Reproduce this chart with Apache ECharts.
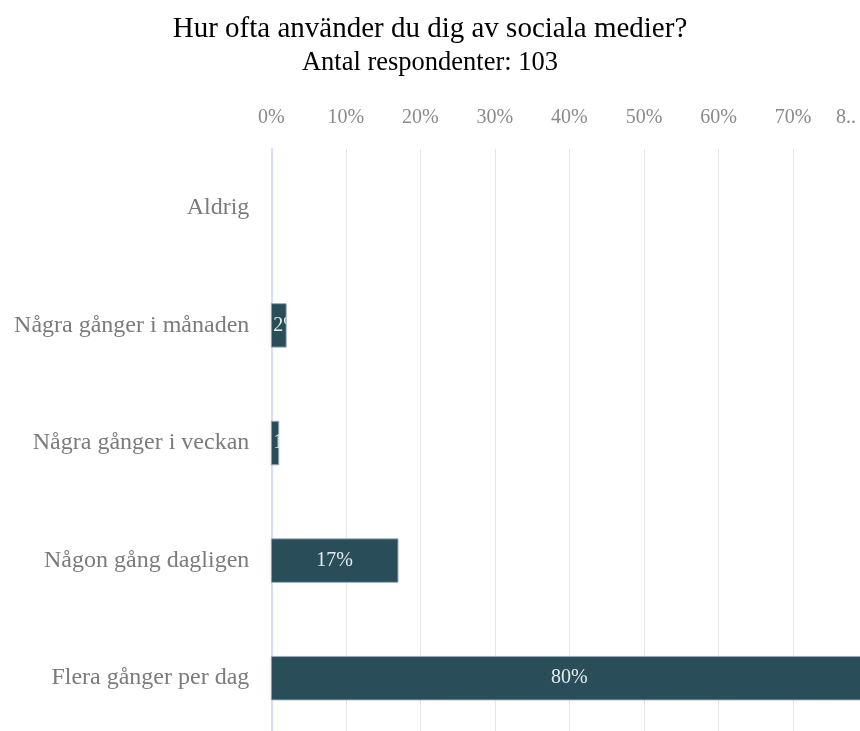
<!DOCTYPE html>
<html>
<head>
<meta charset="utf-8">
<title>Sociala medier</title>
<script src="https://cdn.jsdelivr.net/npm/echarts@6/dist/echarts.min.js"></script>
<style>
  html, body { margin: 0; padding: 0; background: #ffffff; }
  #chart { width: 860px; height: 731px; }
</style>
</head>
<body>
<div id="chart"></div>
<script>
// Answer categories, top to bottom
const categories = [
  'Aldrig',
  'Några gånger i månaden',
  'Några gånger i veckan',
  'Någon gång dagligen',
  'Flera gånger per dag'
];
// Share of respondents per answer, in percent
const shares = [0, 2, 1, 17, 80];
// Labels shown along the top value axis
const tickLabels = ['0%', '10%', '20%', '30%', '40%', '50%', '60%', '70%', '8..'];

const SERIF = '"Liberation Serif", "Times New Roman", serif';
const BAR_COLOR = '#294d59';

// Bars are drawn with a custom series so each value label can be clipped to its bar
function renderBar(params, api) {
  const v = api.value(0);
  if (!v) return null;
  const cat = api.value(1);
  const p0 = api.coord([0, cat]);
  const p1 = api.coord([v, cat]);
  const band = api.size([0, 1])[1];
  const h = band * 0.37;
  const rect = { x: p0[0], y: p0[1] - h / 2, width: p1[0] - p0[0], height: h };
  const fits = rect.width > 50;
  return {
    type: 'group',
    children: [
      {
        type: 'rect',
        shape: rect,
        style: { fill: BAR_COLOR, stroke: 'rgba(150,175,188,0.9)', lineWidth: 1 }
      },
      {
        type: 'text',
        clipPath: { type: 'rect', shape: rect },
        style: {
          text: v + '%',
          x: fits ? (p0[0] + p1[0]) / 2 : p0[0] + 2,
          y: p0[1],
          align: fits ? 'center' : 'left',
          verticalAlign: 'middle',
          fill: '#e4eaec',
          font: '20px ' + SERIF
        }
      }
    ]
  };
}

const chart = echarts.init(document.getElementById('chart'), null, { renderer: 'canvas' });

chart.setOption({
  backgroundColor: '#ffffff',
  animation: false,
  title: {
    text: 'Hur ofta använder du dig av sociala medier?',
    subtext: 'Antal respondenter: 103',
    left: 'center',
    top: 10,
    itemGap: 6,
    textStyle: {
      fontFamily: SERIF,
      fontSize: 29,
      lineHeight: 29,
      fontWeight: 'normal',
      color: '#000000'
    },
    subtextStyle: {
      fontFamily: SERIF,
      fontSize: 26.5,
      lineHeight: 26,
      color: '#000000'
    }
  },
  // the plot area runs slightly past the right and bottom edges of the canvas
  grid: {
    left: 271.3,
    top: 149,
    width: 596.3,
    height: 588,
    containLabel: false,
    outerBoundsMode: 'none'
  },
  xAxis: {
    type: 'value',
    position: 'top',
    min: 0,
    max: 80,
    interval: 10,
    axisLine: { show: false },
    axisTick: { show: false },
    splitLine: { show: true, lineStyle: { color: '#e6e6e6', width: 1 } },
    axisLabel: {
      margin: 21,
      fontFamily: SERIF,
      fontSize: 20,
      color: '#8a8a8a',
      showMinLabel: true,
      showMaxLabel: true,
      formatter: function (val) {
        const i = Math.round(val / 10);
        const t = tickLabels[i];
        return i === tickLabels.length - 1 ? '{last|' + t + '}' : t;
      },
      rich: {
        last: {
          fontFamily: SERIF,
          fontSize: 20,
          color: '#8a8a8a',
          padding: [0, 43, 0, 0]
        }
      }
    }
  },
  yAxis: {
    type: 'category',
    inverse: true,
    data: categories,
    axisLine: { show: true, lineStyle: { color: '#d6def0', width: 2 } },
    axisTick: { show: false },
    splitLine: { show: false },
    axisLabel: {
      margin: 22,
      fontFamily: SERIF,
      fontSize: 24,
      color: '#7b7b7b'
    }
  },
  series: [
    {
      type: 'custom',
      renderItem: renderBar,
      encode: { x: 0, y: 1 },
      data: shares.map(function (v, i) { return [v, i]; })
    }
  ]
});
</script>
</body>
</html>
